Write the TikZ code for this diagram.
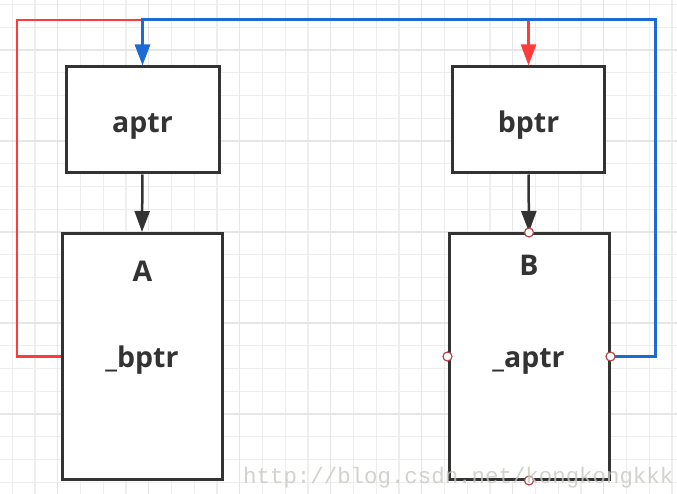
\documentclass[tikz,border=0pt]{standalone}
\usepackage{fontspec}
\setmainfont{Open Sans}
\newfontfamily\wmfont{Liberation Mono}
\usetikzlibrary{arrows.meta}
\definecolor{boxc}{HTML}{333333}
\definecolor{redc}{HTML}{FF3B3B}
\definecolor{bluec}{HTML}{1A6BD6}
\definecolor{gridc}{HTML}{EEEEEE}
\definecolor{gridm}{HTML}{E6E6E6}
\definecolor{portc}{HTML}{B04848}
\definecolor{wmc}{HTML}{C8C8C0}
\begin{document}
\begin{tikzpicture}[x=1pt,y=-1pt,
  boxn/.style={draw=boxc, line width=3pt, fill=white, inner sep=0pt},
  lab/.style={text=boxc, font=\bfseries\fontsize{28.5}{30}\selectfont, inner sep=0pt, anchor=base},
  darrow/.style={draw=boxc, line width=2.5pt, -{Triangle[length=21pt,width=15pt]}, shorten >=0.5pt},
  redline/.style={draw=redc, line width=2.5pt, -{Triangle[length=21pt,width=15pt]}},
  blueline/.style={draw=bluec, line width=3pt, -{Triangle[length=21pt,width=15pt]}},
  port/.style={circle, draw=portc, fill=white, line width=1.2pt, minimum size=9pt, inner sep=0pt},
  wm/.style={text=wmc, text opacity=0.8, font=\wmfont\fontsize{22.4}{24}\selectfont, inner sep=0pt, anchor=base west}
]
\useasboundingbox (0,0) rectangle (677,494);
\fill[white] (0,0) rectangle (677,494);
% grid
\foreach \k in {0,...,29}{\pgfmathsetmacro\xx{12.2+22.75*\k}\draw[gridc, line width=1.2pt] (\xx,0) -- (\xx,494);}
\foreach \k in {0,...,21}{\pgfmathsetmacro\yy{4.55+22.75*\k}\draw[gridc, line width=1.2pt] (0,\yy) -- (677,\yy);}
\foreach \k in {0,...,6}{\pgfmathsetmacro\xx{57.7+91*\k}\draw[gridm, line width=1.5pt] (\xx,0) -- (\xx,494);}
\foreach \k in {0,...,4}{\pgfmathsetmacro\yy{50+91*\k}\draw[gridm, line width=1.5pt] (0,\yy) -- (677,\yy);}
% boxes
\node[boxn, minimum width=153pt, minimum height=106pt] (aptr) at (142.5,120) {};
\node[boxn, minimum width=152pt, minimum height=106pt] (bptr) at (528.5,120) {};
\node[boxn, minimum width=160pt, minimum height=245pt] (A) at (142,356.5) {};
\node[boxn, minimum width=160pt, minimum height=245pt] (B) at (529,356.5) {};
% labels
\node[lab] (taptr) at (142.5,133) {aptr};
\node[lab] (tbptr) at (528.5,133) {bptr};
\node[lab] (tA) at (142.5,282) {A};
\node[lab] (tAb) at (142,367) {\_bptr};
\node[lab] (tB) at (529,276) {B};
\node[lab] (tBa) at (528.5,367) {\_aptr};
% connectors
\coordinate (r1) at (17,20);
\coordinate (b1) at (655,20);
\draw[redline] (A.west) -| (r1) -| (bptr.north);
\draw[blueline] (B.east) -| (b1) -| (aptr.north);
\draw[darrow] (aptr.south) -- (A.north);
\draw[darrow] (bptr.south) -- (B.north);
% ports
\node[port] (pt) at (B.north) {};
\node[port] (pl) at (B.west) {};
\node[port] (pr) at (B.east) {};
\node[port] (pb) at (B.south) {};
% watermark
\node[wm] (wmk) at (243,483) {http://blog.csdn.net/kongkongkkk};
\end{tikzpicture}
\end{document}
